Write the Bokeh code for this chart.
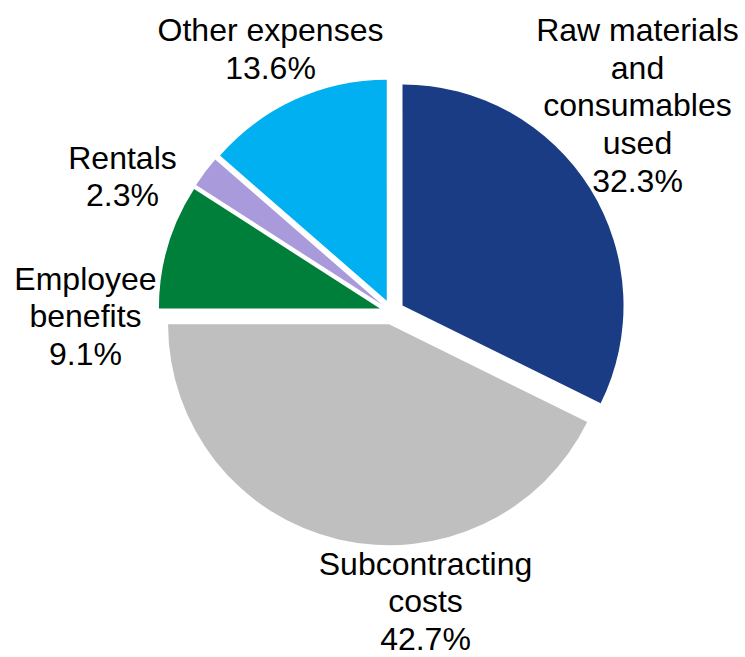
import math
from bokeh.plotting import figure
from bokeh.models import Range1d, ColumnDataSource
from bokeh.core.properties import value
from bokeh.embed import file_html
from bokeh.resources import INLINE

# ---- data ----
categories = ["Raw materials\nand\nconsumables\nused", "Subcontracting\ncosts",
              "Employee\nbenefits", "Rentals", "Other expenses"]
shares = [32.3, 42.7, 9.1, 2.3, 13.6]
colors = ["#1A3C84", "#BFBFBF", "#007F3A", "#A99BDB", "#00B0F0"]

# ---- layout (page pixel based) ----
W, H = 745, 657
CX, CY = 391.4, H - 311.6
R = 221.0
EXPLODE = 12.5
# label block centres (page pixels)
label_px = [637, 425, 85, 122, 270]
label_py = [105, 601, 316, 176, 48.5]

total = sum(shares)
xs, ys, starts, ends = [], [], [], []
cum = 0.0
for s in shares:
    t1 = cum / total * 2 * math.pi          # clockwise from 12 o'clock
    t2 = (cum + s) / total * 2 * math.pi
    mid = (t1 + t2) / 2
    xs.append(CX + EXPLODE * math.sin(mid))
    ys.append(CY + EXPLODE * math.cos(mid))
    starts.append(math.pi / 2 - t2)
    ends.append(math.pi / 2 - t1)
    cum += s

src = ColumnDataSource(dict(x=xs, y=ys, start=starts, end=ends, color=colors))

p = figure(width=W, height=H, output_backend="svg", toolbar_location=None,
           x_range=Range1d(0, W), y_range=Range1d(0, H),
           min_border=0, outline_line_color=None)
p.axis.visible = False
p.grid.visible = False
p.background_fill_color = "white"
p.border_fill_color = "white"

p.wedge(x="x", y="y", radius=R, radius_units="data", start_angle="start",
        end_angle="end", fill_color="color", line_color=None, source=src)

labels = [f"{c}\n{s:.1f}%" for c, s in zip(categories, shares)]
lsrc = ColumnDataSource(dict(x=label_px, y=[H - v for v in label_py], text=labels))
p.text(x="x", y="y", text="text", source=lsrc, text_align="center",
       text_baseline="middle", text_font=value("Liberation Sans"),
       text_font_size="32px", text_line_height=1.05, text_color="black")

open("out.html", "w").write(file_html(p, INLINE))
